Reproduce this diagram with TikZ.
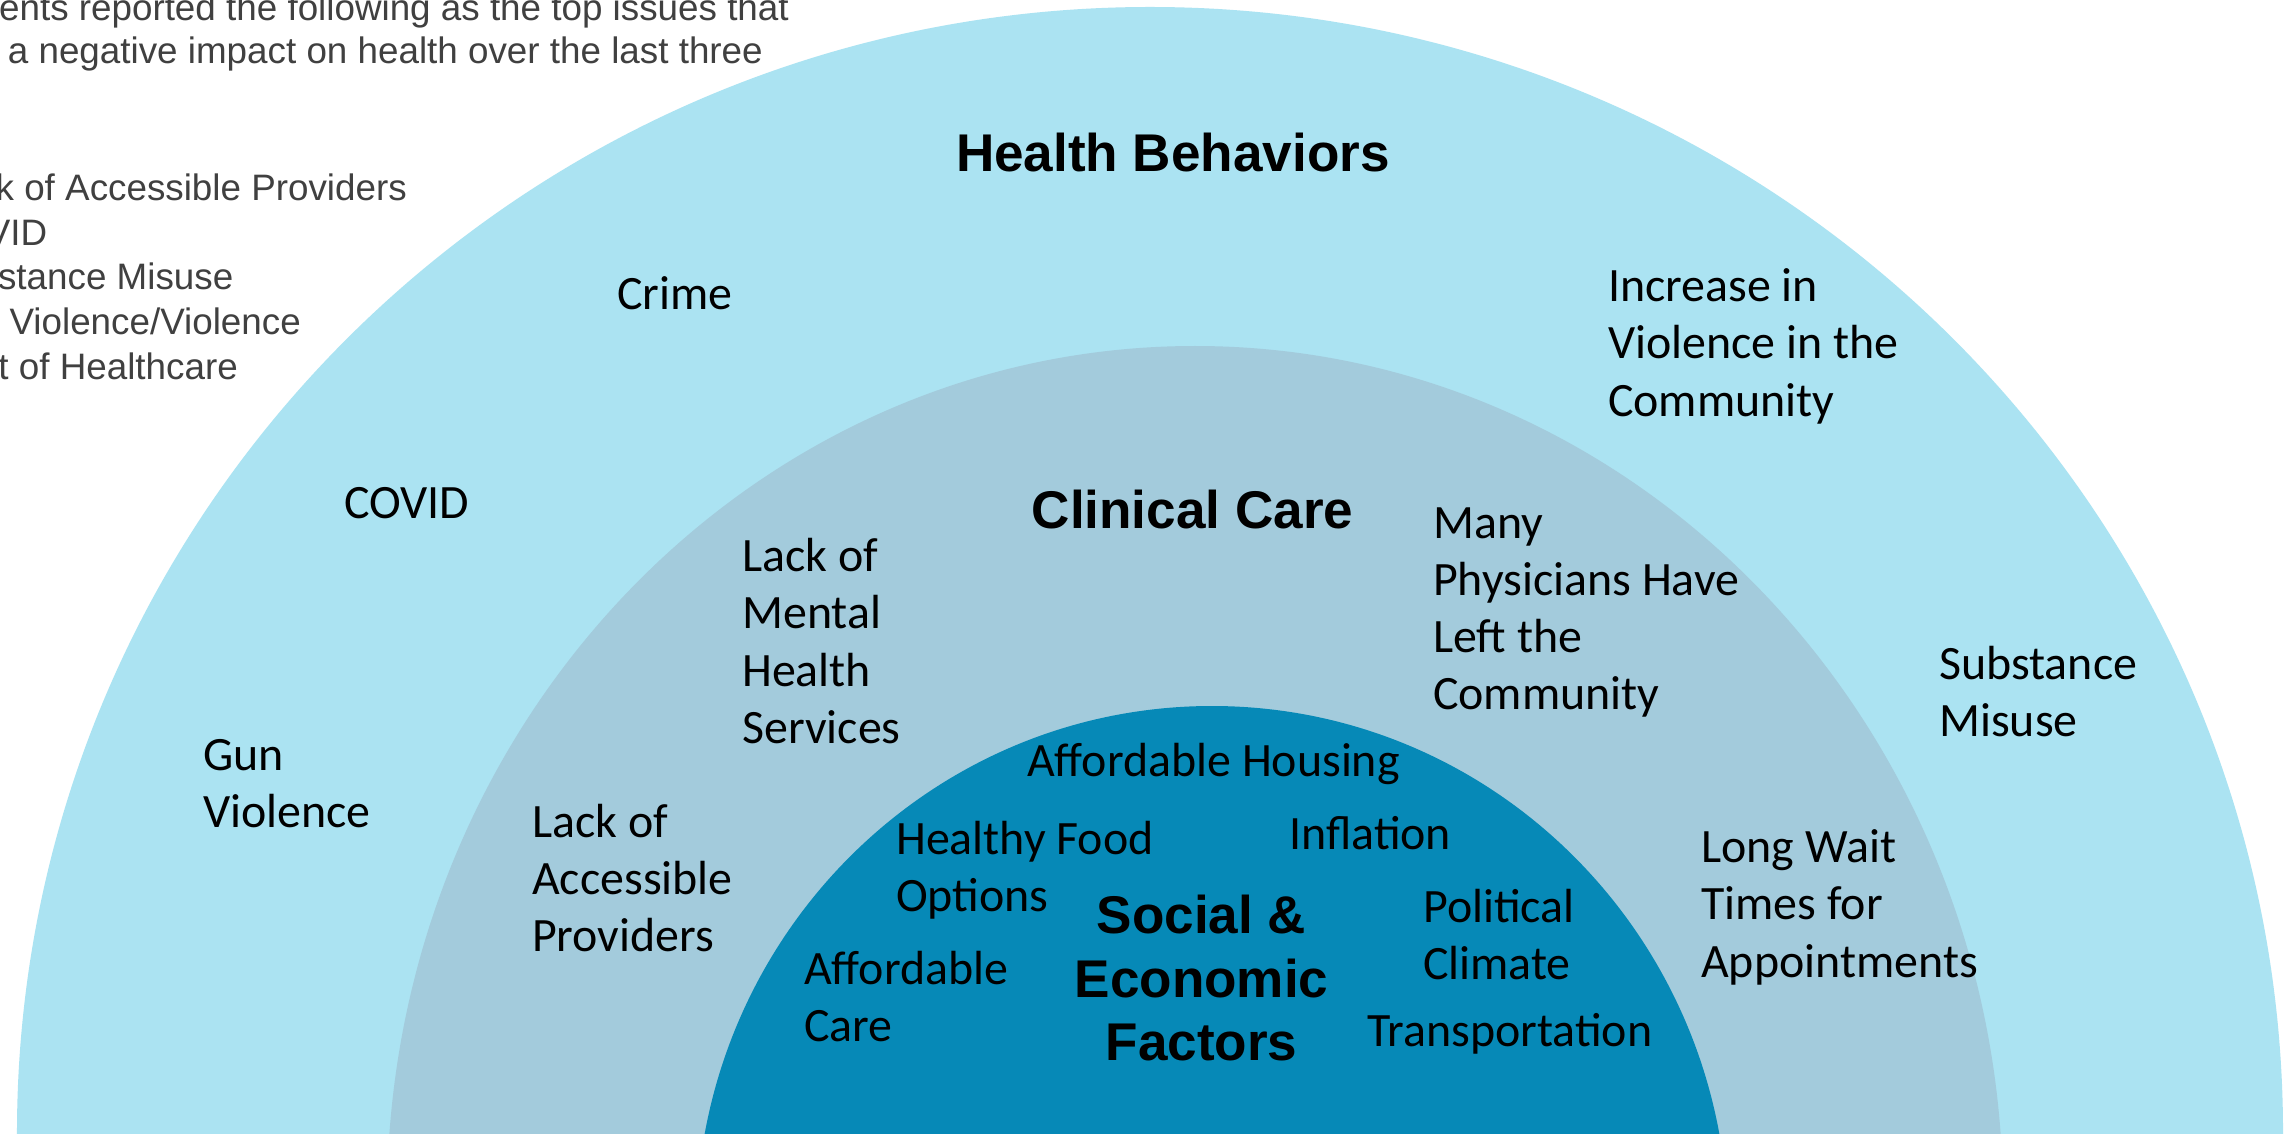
\documentclass[tikz,border=0pt]{standalone}
\usepackage{fontspec}
\setmainfont{Carlito}
\newfontfamily\arialfont{Liberation Sans}
\definecolor{outerc}{HTML}{ABE3F2}
\definecolor{midc}{HTML}{A3CBDC}
\definecolor{innerc}{HTML}{0689B7}
\definecolor{graytxt}{HTML}{404040}
\newcommand{\lbltab}[1]{\begin{tabular}[t]{@{}l@{}}#1\end{tabular}}
\newcommand{\ctrtab}[1]{\begin{tabular}[t]{@{}c@{}}#1\end{tabular}}
\tikzset{
  lbl/.style={inner sep=0pt, anchor=base west, text=black,
    font=\fontsize{47.9bp}{57.2bp}\selectfont},
  ttl/.style={inner sep=0pt, anchor=base, text=black,
    font=\fontsize{53.1bp}{63.7bp}\selectfont\arialfont\bfseries},
  side/.style={inner sep=0pt, anchor=base east, text=graytxt,
    font=\fontsize{36.8bp}{44.8bp}\selectfont\arialfont}
}
\begin{document}
\begin{tikzpicture}[x=1bp, y=-1bp]
\useasboundingbox (0,0) rectangle (2289,1133);
\clip (0,0) rectangle (2289,1133);
\fill[white] (0,0) rectangle (2289,1133);
% rings
\fill[outerc] (1150,1133) ellipse [x radius=1133bp, y radius=1126bp];
\fill[midc] (1195,1200) ellipse [x radius=808bp, y radius=854bp];
\fill[innerc] (1212,1230) ellipse [x radius=516bp, y radius=524bp];
% side text (clipped at left edge)
\node[side] (s1) at (789,20.5) {Respondents reported the following as the top issues that};
\node[side] (s2) at (763,63.3) {have had a negative impact on health over the last three};
\node[side] (i1) at (407,200) {Lack of Accessible Providers};
\node[side] (i2) at (47.5,245) {COVID};
\node[side] (i3) at (233.5,289.3) {Substance Misuse};
\node[side] (i4) at (301,334) {Gun Violence/Violence};
\node[side] (i5) at (238,379.3) {Cost of Healthcare};
% titles
\node[ttl] (hb) at (1172.9,171.7) {Health Behaviors};
\node[ttl] (cc) at (1192.5,528) {Clinical Care};
\node[ttl] (sef) at (1201.5,933.3) {\ctrtab{Social \&\\Economic\\Factors}};
% labels
\node[lbl] (crime) at (617,309.3) {Crime};
\node[lbl] (incr) at (1608,301.7) {\lbltab{Increase in\\Violence in the\\Community}};
\node[lbl] (covid) at (344,518.3) {COVID};
\node[lbl] (many) at (1433,538.3) {\lbltab{Many\\Physicians Have\\Left the\\Community}};
\node[lbl] (lackmh) at (742,571.7) {\lbltab{Lack of\\Mental\\Health\\Services}};
\node[lbl] (subst) at (1939,679.3) {\lbltab{Substance\\Misuse}};
\node[lbl] (gun) at (203,770) {\lbltab{Gun\\Violence}};
\node[lbl] (lackap) at (532,837.3) {\lbltab{Lack of\\Accessible\\Providers}};
\node[lbl] (affh) at (1027,776) {Affordable Housing};
\node[lbl] (healthy) at (896,854) {\lbltab{Healthy Food\\Options}};
\node[lbl] (infl) at (1289,849.3) {Inflation};
\node[lbl] (longwait) at (1701,862.7) {\lbltab{Long Wait\\Times for\\Appointments}};
\node[lbl] (political) at (1423,922.7) {\lbltab{Political\\Climate}};
\node[lbl] (affc) at (804,984) {\lbltab{Affordable\\Care}};
\node[lbl] (transp) at (1367,1046.7) {Transportation};
\end{tikzpicture}
\end{document}
